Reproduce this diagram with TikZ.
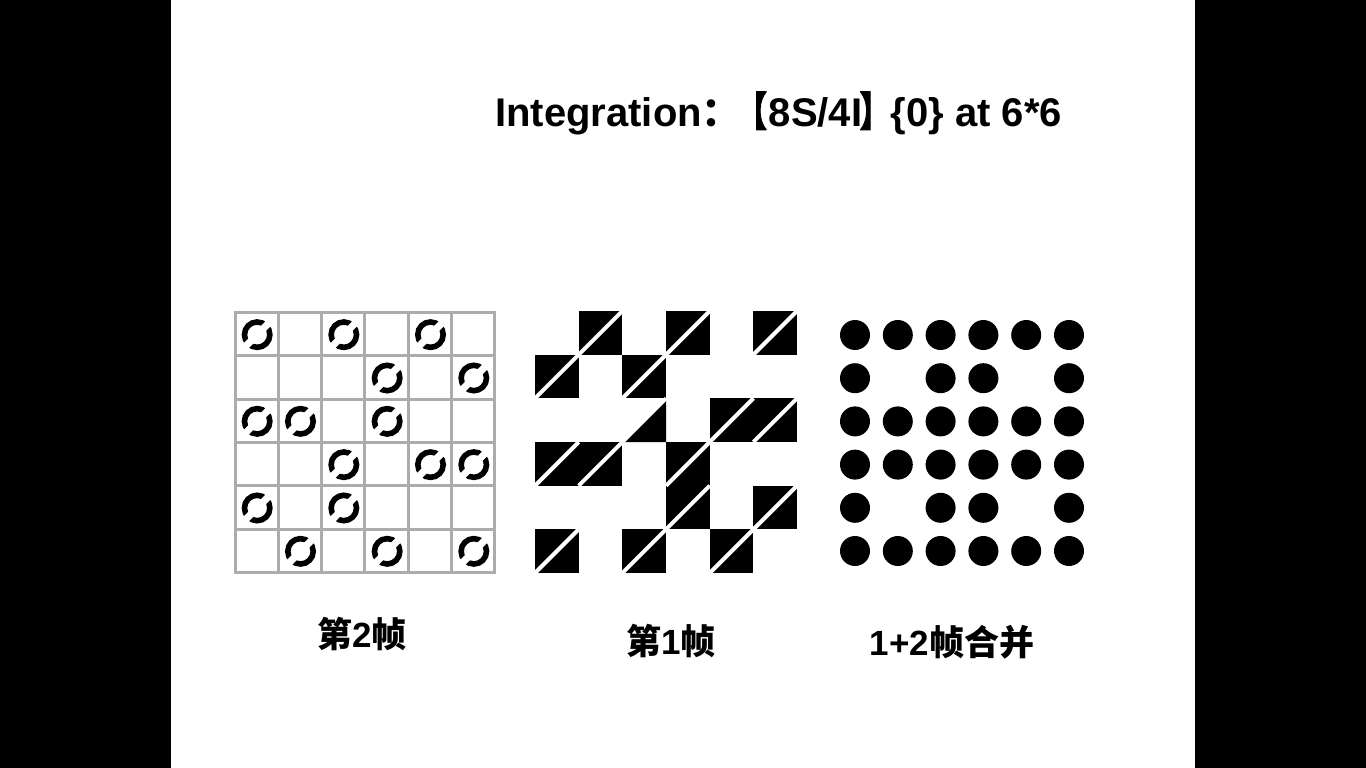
\documentclass[tikz,border=0pt]{standalone}
\usepackage{fontspec}
\setmainfont{Liberation Sans}
\newfontfamily\cjk{Noto Sans CJK SC}
\newfontfamily\cjkbrk{Noto Sans CJK SC}[FakeBold=3]
\definecolor{gridgray}{RGB}{172,172,172}
\newcommand{\lbrk}{\scalebox{0.75}[1]{\cjkbrk【}}
\newcommand{\rbrk}{\scalebox{0.75}[1]{\cjkbrk】}}
\tikzset{
  gridline/.style={draw=gridgray, line width=3pt},
  ringline/.style={draw=black, line width=5.6pt},
  ringcut/.style={draw=white, line width=7pt},
  diagline/.style={draw=white, line width=4pt},
  dotfill/.style={fill=black},
  titletext/.style={font=\fontsize{40}{46}\selectfont\bfseries, inner sep=0pt, anchor=base west},
  labtext/.style={font=\fontsize{35}{40}\selectfont\bfseries, inner sep=0pt}
}
\begin{document}
\begin{tikzpicture}[x=1pt,y=-1pt]
\fill[black] (0,0) rectangle (1366,768);
\fill[white] (171,0) rectangle (1195,768);
\useasboundingbox (0,0) rectangle (1366,768);
% title
\node[titletext] (title) at (495,126) {Integration{\cjk：}\hspace{-5pt}\lbrk\hspace{2pt}8S/4I\hspace{-2.4pt}\rbrk\hspace{1pt}\{0\} at 6*6};
% frame 2: grid with rings
\def\gx{235}\def\gy{312.5}\def\gs{43.33}
\foreach \i in {0,...,6} {
  \draw[gridline] (\gx+\i*\gs,\gy-1.5) -- (\gx+\i*\gs,\gy+6*\gs+1.5);
  \draw[gridline] (\gx-1.5,\gy+\i*\gs) -- (\gx+6*\gs+1.5,\gy+\i*\gs);
}
\foreach \c/\r in {0/0,2/0,4/0,3/1,5/1,0/2,1/2,3/2,2/3,4/3,5/3,0/4,2/4,1/5,3/5,5/5} {
  \coordinate (rc) at (\gx+\c*\gs+0.5*\gs+0.5,\gy+\r*\gs+0.5*\gs+0.5);
  \draw[ringline] (rc) circle[radius=12.7];
  \draw[ringcut] ([shift={(-12,12)}]rc) -- ([shift={(12,-12)}]rc);
}
% frame 1: triangles
\def\hx{535}\def\hy{311}\def\hs{43.67}
\foreach \c/\r in {1/0,3/0,5/0,0/1,2/1,4/2,5/2,0/3,1/3,3/3,3/4,5/4,0/5,2/5,4/5} {
  \fill[black] (\hx+\c*\hs,\hy+\r*\hs) rectangle ++(\hs,\hs);
}
\fill[black] (\hx+3*\hs,\hy+2*\hs) -- (\hx+3*\hs,\hy+3*\hs) -- (\hx+2*\hs,\hy+3*\hs) -- cycle;
\foreach \c/\r in {1/0,3/0,5/0,0/1,2/1,2/2,4/2,5/2,0/3,1/3,3/3,3/4,5/4,0/5,2/5,4/5} {
  \draw[diagline] (\hx+\c*\hs,\hy+\r*\hs+\hs) -- ++(\hs,-\hs);
}
% frame 1+2: dots
\foreach \r in {0,...,5} {
  \foreach \c in {0,...,5} {
    \pgfmathtruncatemacro\skipdot{((\r==1 || \r==4) && (\c==1 || \c==4)) ? 1 : 0}
    \ifnum\skipdot=0
      \fill[dotfill] (855+\c*42.8,335+\r*43.2) circle[radius=15];
    \fi
  }
}
% labels
\node[labtext] (lab2) at (362,634) {{\cjk 第}2{\cjk 帧}};
\node[labtext] (lab1) at (671,641) {{\cjk 第}1{\cjk 帧}};
\node[labtext] (lab12) at (952,642) {1+2{\cjk 帧合并}};
\end{tikzpicture}
\end{document}
